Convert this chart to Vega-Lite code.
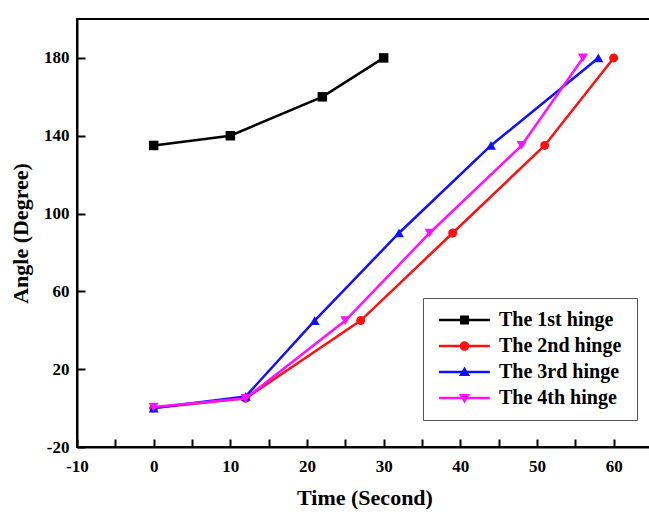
{
  "$schema": "https://vega.github.io/schema/vega-lite/v6.json",
  "width": 575,
  "height": 428,
  "autosize": "none",
  "padding": {"left": 77, "top": 19, "right": 0, "bottom": 71},
  "background": "white",
  "config": {
    "view": {"stroke": "black", "strokeWidth": 2},
    "font": "Liberation Serif",
    "axis": {"labelOverlap": false, "labelFlush": false, "labelSeparation": -5},
    "legend": {"labelFont": "Liberation Serif", "labelFontWeight": "bold", "labelFontSize": 20, "labelColor": "black",
      "symbolSize": 256, "symbolStrokeWidth": 0, "padding": 12, "strokeColor": "#555555", "fillColor": "white",
      "rowPadding": 6, "labelOffset": 44, "labelLimit": 300}
  },
  "data": {
    "values": [
      {"series": "The 1st hinge", "t": 0, "angle": 135},
      {"series": "The 1st hinge", "t": 10, "angle": 140},
      {"series": "The 1st hinge", "t": 22, "angle": 160},
      {"series": "The 1st hinge", "t": 30, "angle": 180},
      {"series": "The 2nd hinge", "t": 0, "angle": 0},
      {"series": "The 2nd hinge", "t": 12, "angle": 5},
      {"series": "The 2nd hinge", "t": 27, "angle": 45},
      {"series": "The 2nd hinge", "t": 39, "angle": 90},
      {"series": "The 2nd hinge", "t": 51, "angle": 135},
      {"series": "The 2nd hinge", "t": 60, "angle": 180},
      {"series": "The 3rd  hinge", "t": 0, "angle": 0},
      {"series": "The 3rd  hinge", "t": 12, "angle": 6},
      {"series": "The 3rd  hinge", "t": 21, "angle": 45},
      {"series": "The 3rd  hinge", "t": 32, "angle": 90},
      {"series": "The 3rd  hinge", "t": 44, "angle": 135},
      {"series": "The 3rd  hinge", "t": 58, "angle": 180},
      {"series": "The 4th hinge", "t": 0, "angle": 0.5},
      {"series": "The 4th hinge", "t": 12, "angle": 5},
      {"series": "The 4th hinge", "t": 25, "angle": 45},
      {"series": "The 4th hinge", "t": 36, "angle": 90},
      {"series": "The 4th hinge", "t": 48, "angle": 135},
      {"series": "The 4th hinge", "t": 56, "angle": 180}
    ]
  },
  "layer": [
    {
      "transform": [{"filter": "datum.series === 'The 1st hinge'"}],
      "mark": {"type": "line", "strokeWidth": 2.5, "color": "#000000",
        "point": {"shape": "square", "filled": true, "size": 90, "color": "#000000", "opacity": 1}},
      "encoding": {
        "x": {"field": "t", "type": "quantitative", "scale": {"domain": [-10, 65], "nice": false, "zero": false},
          "axis": {"orient": "bottom", "values": [-10, -5, 0, 5, 10, 15, 20, 25, 30, 35, 40, 45, 50, 55, 60], "title": "Time (Second)", "grid": false,
            "labelExpr": "datum.value % 10 === 0 ? '' + datum.value : ''",
            "encode": {"ticks": {"update": {"y2": {"signal": "datum.value % 10 === 0 ? -8 : -4"}}}},
            "tickSize": -8, "tickWidth": 2, "tickColor": "black", "domainColor": "black", "domainWidth": 2,
            "labelFont": "Liberation Serif", "labelFontWeight": "bold", "labelFontSize": 17, "labelColor": "black", "labelPadding": 19,
            "labelFlush": false, "labelOverlap": false, "labelSeparation": -5,
            "titleFont": "Liberation Serif", "titleFontWeight": "bold", "titleFontSize": 22, "titleColor": "black", "titlePadding": 13}},
        "y": {"field": "angle", "type": "quantitative", "scale": {"domain": [-20, 200], "nice": false, "zero": false},
          "axis": {"orient": "left", "values": [-20, -10, 0, 10, 20, 30, 40, 50, 60, 70, 80, 90, 100, 110, 120, 130, 140, 150, 160, 170, 180, 190, 200], "title": "Angle (Degree)", "grid": false,
            "labelExpr": "datum.value % 20 === 0 ? '' + datum.value : ''",
            "encode": {"ticks": {"update": {"x2": {"signal": "datum.value % 20 === 0 ? 8 : 4"}}}},
            "tickSize": -8, "tickWidth": 2, "tickColor": "black", "domainColor": "black", "domainWidth": 2,
            "labelFont": "Liberation Serif", "labelFontWeight": "bold", "labelFontSize": 17, "labelColor": "black", "labelPadding": 16,
            "labelFlush": false, "labelOverlap": false, "labelSeparation": -5,
            "titleFont": "Liberation Serif", "titleFontWeight": "bold", "titleFontSize": 22, "titleColor": "black", "titlePadding": 11}}
      }
    },
    {
      "transform": [{"filter": "datum.series === 'The 2nd hinge'"}],
      "mark": {"type": "line", "strokeWidth": 2.5, "color": "#ff1010",
        "point": {"shape": "circle", "filled": true, "size": 80, "color": "#ff1010", "opacity": 1}},
      "encoding": {
        "x": {"field": "t", "type": "quantitative"},
        "y": {"field": "angle", "type": "quantitative"}
      }
    },
    {
      "transform": [{"filter": "datum.series === 'The 3rd  hinge'"}],
      "mark": {"type": "line", "strokeWidth": 2.5, "color": "#1010ff",
        "point": {"shape": "triangle-up", "filled": true, "size": 100, "color": "#1010ff", "opacity": 1}},
      "encoding": {
        "x": {"field": "t", "type": "quantitative"},
        "y": {"field": "angle", "type": "quantitative"}
      }
    },
    {
      "transform": [{"filter": "datum.series === 'The 4th hinge'"}],
      "mark": {"type": "line", "strokeWidth": 2.5, "color": "#ff10ff",
        "point": {"shape": "triangle-down", "filled": true, "size": 100, "color": "#ff10ff", "opacity": 1}},
      "encoding": {
        "x": {"field": "t", "type": "quantitative"},
        "y": {"field": "angle", "type": "quantitative"}
      }
    },
    {
      "mark": {"type": "point", "filled": true, "size": 0, "opacity": 1},
      "encoding": {
        "x": {"field": "t", "type": "quantitative"},
        "y": {"field": "angle", "type": "quantitative"},
        "color": {"field": "series", "type": "nominal",
          "scale": {"domain": ["The 1st hinge", "The 2nd hinge", "The 3rd  hinge", "The 4th hinge"], "range": ["#000000", "#ff1010", "#1010ff", "#ff10ff"]},
          "legend": {"title": null, "orient": "none", "legendX": 346, "legendY": 279}},
        "shape": {"field": "series", "type": "nominal",
          "scale": {"domain": ["The 1st hinge", "The 2nd hinge", "The 3rd  hinge", "The 4th hinge"],
            "range": [
              "M-0.75,-0.16H5.6V0.16H-0.75Z M1.88,-0.56H3V0.56H1.88Z",
              "M-0.75,-0.16H5.6V0.16H-0.75Z M1.84,0A0.6,0.6 0 1,1 3.04,0A0.6,0.6 0 1,1 1.84,0Z",
              "M-0.75,-0.16H5.6V0.16H-0.75Z M2.44,-0.7L3.14,0.5H1.74Z",
              "M-0.75,-0.16H5.6V0.16H-0.75Z M2.44,0.7L1.74,-0.5H3.14Z"
            ]},
          "legend": {"title": null, "orient": "none", "legendX": 346, "legendY": 279}}
      }
    }
  ]
}
